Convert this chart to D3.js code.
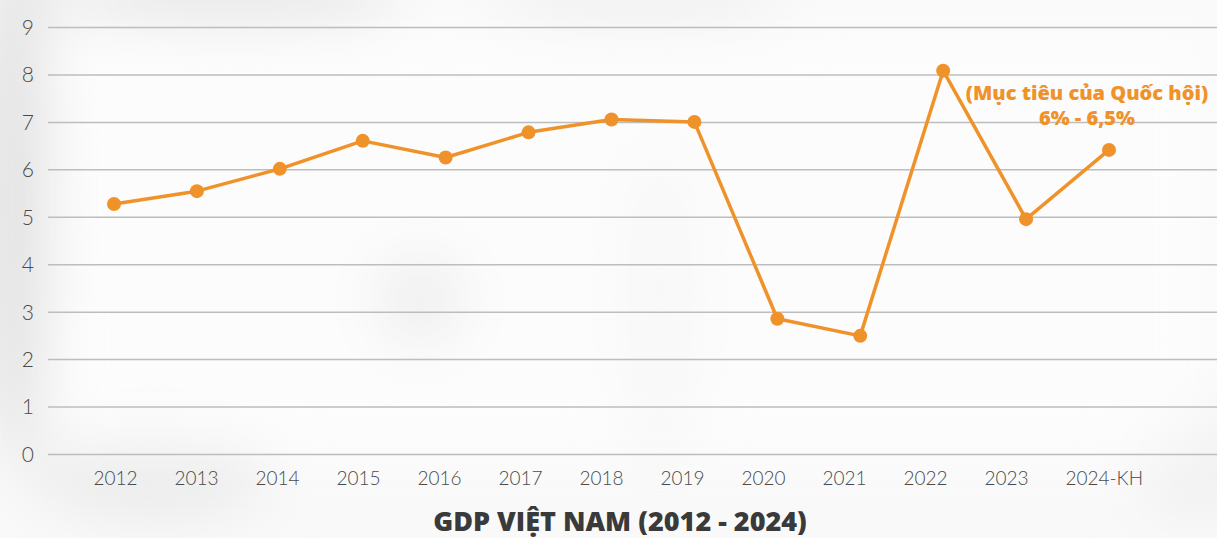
<!DOCTYPE html>
<html>
<head>
<meta charset="utf-8">
<script src="https://cdn.jsdelivr.net/npm/d3@7"></script>
<style>
  html, body { margin: 0; padding: 0; background: #ffffff; }
  svg { display: block; }
</style>
</head>
<body>
<svg id="chart" width="1217" height="538"></svg>
<script>
// ---- data ----
const categories = ["2012","2013","2014","2015","2016","2017","2018","2019","2020","2021","2022","2023","2024-KH"];
const gdpGrowth  = [5.27, 5.54, 6.01, 6.60, 6.25, 6.78, 7.05, 7.00, 2.85, 2.49, 8.08, 4.95, 6.41];
const yTicks     = [0,1,2,3,4,5,6,7,8,9];
const titleText  = "GDP VIỆT NAM (2012 - 2024)";
const noteLines  = ["(Mục tiêu của Quốc hội)", "6% - 6,5%"];

const W = 1217, H = 538;
const svg = d3.select("#chart");

// ---- soft blurred background ----
const defs = svg.append("defs");
defs.append("filter").attr("id","blur").attr("x","-50%").attr("y","-50%").attr("width","200%").attr("height","200%")
  .append("feGaussianBlur").attr("stdDeviation", 28);
svg.append("rect").attr("width", W).attr("height", H).attr("fill", "#f9f9f9");
const blobs = [
  {cx: 20, cy: 200, rx: 40, ry: 260, c: "#e2e2e2"},
  {cx: 230, cy: 5, rx: 170, ry: 30, c: "#e4e4e4"},
  {cx: 420, cy: 300, rx: 45, ry: 45, c: "#d8d8d8"},
  {cx: 640, cy: 10, rx: 150, ry: 25, c: "#ececec"},
  {cx: 660, cy: 300, rx: 40, ry: 160, c: "#eeeeee"},
  {cx: 150, cy: 470, rx: 120, ry: 50, c: "#ebebeb"},
  {cx: 1200, cy: 460, rx: 60, ry: 60, c: "#f0f0f0"}
];
svg.append("g").attr("filter","url(#blur)").selectAll("ellipse").data(blobs).join("ellipse")
  .attr("cx", d => d.cx).attr("cy", d => d.cy).attr("rx", d => d.rx).attr("ry", d => d.ry)
  .attr("fill", d => d.c);
svg.append("rect").attr("x", 48).attr("y", 20).attr("width", 1169).attr("height", 440)
  .attr("fill", "#ffffff").attr("opacity", 0.6).attr("filter","url(#blur)");

// ---- scales ----
const y = d3.scaleLinear().domain([0, 9]).range([454, 27]);
const xPts = d3.scalePoint().domain(categories).range([114, 1109]);
const xLab = d3.scalePoint().domain(categories).range([93, 1065]);

// ---- grid ----
const grid = svg.append("g").attr("class","grid")
  .call(d3.axisLeft(y).tickValues(yTicks).tickSize(-(W - 48)).tickFormat(""))
  .attr("transform", "translate(48,0)");
grid.select(".domain").remove();
grid.selectAll("line").attr("stroke", "#bdbdbd").attr("stroke-width", 1.5);

// ---- y labels ----
const yAx = svg.append("g").attr("transform", "translate(34,0)")
  .call(d3.axisLeft(y).tickValues(yTicks).tickSize(0).tickPadding(0).tickFormat(d3.format("d")));
yAx.select(".domain").remove();
yAx.selectAll("text").attr("font-family", "Lato, 'Open Sans', sans-serif").attr("font-weight", 300)
  .attr("font-size", 21).attr("fill", "#4a4a4a").attr("text-anchor", "end").attr("dy", "0.35em");

// ---- x labels ----
const xAx = svg.append("g").attr("transform", "translate(0,478)")
  .call(d3.axisBottom(xLab).tickSize(0).tickPadding(0));
xAx.select(".domain").remove();
xAx.selectAll("text").attr("font-family", "Lato, 'Open Sans', sans-serif").attr("font-weight", 300)
  .attr("font-size", 19).attr("fill", "#4a4a4a").attr("text-anchor", "start").attr("dy", "0.35em")
  .attr("y", 0);

// ---- line ----
const color = "#f0922a";
const line = d3.line().x((d, i) => xPts(categories[i])).y(d => y(d));
svg.append("path").datum(gdpGrowth).attr("d", line)
  .attr("fill", "none").attr("stroke", color).attr("stroke-width", 3.5).attr("stroke-linejoin", "round");
svg.append("g").selectAll("circle").data(gdpGrowth).join("circle")
  .attr("cx", (d, i) => xPts(categories[i])).attr("cy", d => y(d)).attr("r", 7).attr("fill", color);

// ---- annotation ----
const boldFont = "'Open Sans', Lato, sans-serif";
svg.append("text").attr("x", 1087).attr("y", 100).attr("text-anchor", "middle")
  .attr("font-family", boldFont).attr("font-weight", 800)
  .attr("font-size", 20).attr("fill", color).text(noteLines[0]);
svg.append("text").attr("x", 1087).attr("y", 125).attr("text-anchor", "middle")
  .attr("font-family", boldFont).attr("font-weight", 800)
  .attr("font-size", 20).attr("fill", color).text(noteLines[1]);

// ---- title ----
svg.append("text").attr("x", 620).attr("y", 531).attr("text-anchor", "middle")
  .attr("font-family", boldFont).attr("font-weight", 800)
  .attr("font-size", 27).attr("fill", "#3a3a3a").text(titleText);
</script>
</body>
</html>
